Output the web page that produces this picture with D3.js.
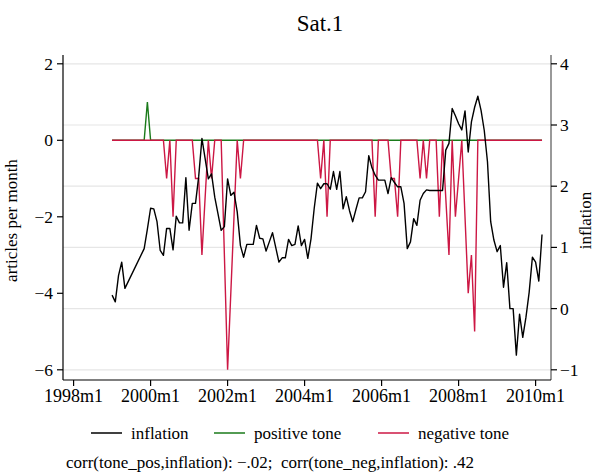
<!DOCTYPE html>
<html>
<head>
<meta charset="utf-8">
<script src="https://cdn.jsdelivr.net/npm/d3@7"></script>
<style>
  body { margin: 0; background: #fff; }
  text { font-family: "Liberation Serif", "Times New Roman", serif; fill: #000; }
</style>
</head>
<body>
<div id="chart"></div>
<script>
// months are counted from 1998m1 (= 0)
var xTicks = [0, 24, 48, 72, 96, 120, 144];
var xTickLabels = ["1998m1", "2000m1", "2002m1", "2004m1", "2006m1", "2008m1", "2010m1"];
var leftTicks = [2, 0, -2, -4, -6];
var rightTicks = [4, 3, 2, 1, 0, -1];

// inflation, monthly from 1999m1 (month 12) to 2010m3 (month 146); null = missing
var inflStart = 12;
var inflation = [
  0.22, 0.11, 0.54, 0.76, 0.33, null, null, null, null, null, 0.98, 1.30,
  1.64, 1.63, 1.42, 0.95, 0.87, 1.31, 1.31, 0.96, 1.51, 1.40, 1.40, 2.14,
  1.28, 1.72, 1.72, 2.16, 2.78, 2.45, 2.12, 2.20, 1.82, 1.55, 1.28, 1.34,
  2.12, 1.85, 1.90, 1.58, 1.03, 0.84, 1.05, 1.05, 1.05, 1.36, 1.15, 1.14,
  0.94, 1.09, 1.24, 1.00, 0.76, 0.83, 0.83, 1.13, 1.03, 1.05, 1.35, 1.03,
  1.13, 0.82, 1.14, 1.64, 2.05, 1.96, 2.04, 2.04, 1.95, 2.24, 1.95, 2.24,
  1.63, 1.83, 1.60, 1.42, 1.62, 1.81, 1.81, 1.91, 2.50, 2.30, 2.18, 2.10,
  2.10, 2.10, 1.88, 2.14, 2.06, 1.99, 1.99, 1.72, 0.98, 1.09, 1.47, 1.36,
  1.77, 1.88, 1.94, 1.93, 1.93, 1.93, 1.93, 1.93, 2.59, 2.70, 3.27, 3.15,
  3.02, 2.92, 3.23, 2.56, 3.05, 3.29, 3.47, 3.24, 2.91, 2.40, 1.42, 1.12,
  0.93, 1.03, 0.35, 0.75, 0.00, 0.00, -0.76, -0.09, -0.47, -0.14, 0.27, 0.84,
  0.76, 0.45, 1.21
];

// tone series, vertices of the line (month, articles)
var posMonths = [12, 22, 23, 24, 146];
var posValues = [0, 0, 1, 0, 0];

var negMonths = [12, 28, 29, 30, 31, 32, 37, 38, 39, 40, 42, 43, 44, 46, 48, 51, 52, 53,
                 76, 77, 78, 79, 80, 93, 94, 95, 98, 99, 100, 101, 102,
                 107, 108, 109, 110, 111, 113, 114, 115, 117, 118, 119, 121, 123, 124, 125, 126, 146];
var negValues = [0, 0, -1, 0, -2, 0, 0, -1, -1, -3, 0, -1, 0, 0, -6, 0, -1, 0,
                 0, -1, 0, -2, 0, 0, -2, 0, 0, -1, -1, -2, 0,
                 0, -1, 0, -1, 0, 0, -2, 0, -3, 0, -2, 0, -4, -3, -5, 0, 0];

var seriesNames = ["inflation", "positive tone", "negative tone"];
var seriesColors = ["#000000", "#1a7a1a", "#cc1744"];

var W = 596, H = 473;
var plot = {left: 63, right: 551, top: 55, bottom: 380};

var svg = d3.select("#chart").append("svg")
    .attr("width", W)
    .attr("height", H);

var x = d3.scaleLinear().domain([-3.3, 148.8]).range([plot.left, plot.right]);
var yL = d3.scaleLinear().domain([-6, 2]).range([369.8, 63.8]);
var yR = d3.scaleLinear().domain([-1, 4]).range([369.8, 63.8]);

// gridlines (from the right axis)
svg.append("g").selectAll("line")
    .data(rightTicks)
  .enter().append("line")
    .attr("x1", plot.left).attr("x2", plot.right)
    .attr("y1", function(d) { return yR(d); })
    .attr("y2", function(d) { return yR(d); })
    .attr("stroke", "#e6e6e6")
    .attr("stroke-width", 1.2);

// left axis
var gl = svg.append("g").attr("transform", "translate(" + plot.left + ",0)");
gl.append("line").attr("y1", plot.top).attr("y2", plot.bottom).attr("stroke", "#000").attr("stroke-width", 1.2);
gl.selectAll(".tk").data(leftTicks).enter().append("line")
    .attr("x1", -6).attr("x2", 0)
    .attr("y1", function(d) { return yL(d); }).attr("y2", function(d) { return yL(d); })
    .attr("stroke", "#000").attr("stroke-width", 1.2);
gl.selectAll(".lb").data(leftTicks).enter().append("text")
    .attr("x", -10)
    .attr("y", function(d) { return yL(d) + 6; })
    .attr("text-anchor", "end")
    .style("font-size", "17.5px")
    .text(function(d) { return d < 0 ? "\u2212" + (-d) : d; });

// right axis
var gr = svg.append("g").attr("transform", "translate(" + plot.right + ",0)");
gr.append("line").attr("y1", plot.top).attr("y2", plot.bottom).attr("stroke", "#555").attr("stroke-width", 1.2);
gr.selectAll(".tk").data(rightTicks).enter().append("line")
    .attr("x1", 0).attr("x2", 6)
    .attr("y1", function(d) { return yR(d); }).attr("y2", function(d) { return yR(d); })
    .attr("stroke", "#000").attr("stroke-width", 1.2);
gr.selectAll(".lb").data(rightTicks).enter().append("text")
    .attr("x", 9)
    .attr("y", function(d) { return yR(d) + 6; })
    .style("font-size", "17.5px")
    .text(function(d) { return d < 0 ? "\u2212" + (-d) : d; });

// bottom axis
var gb = svg.append("g").attr("transform", "translate(0," + plot.bottom + ")");
gb.append("line").attr("x1", plot.left).attr("x2", plot.right).attr("stroke", "#000").attr("stroke-width", 1.2);
gb.selectAll(".tk").data(xTicks).enter().append("line")
    .attr("x1", function(d) { return x(d); }).attr("x2", function(d) { return x(d); })
    .attr("y1", 0).attr("y2", 6)
    .attr("stroke", "#000").attr("stroke-width", 1.2);
gb.selectAll(".lb").data(xTicks).enter().append("text")
    .attr("x", function(d) { return x(d); })
    .attr("y", 22)
    .attr("text-anchor", "middle")
    .style("font-size", "18px")
    .text(function(d, i) { return xTickLabels[i]; });

// axis titles and title
svg.append("text")
    .attr("transform", "translate(17," + ((plot.top + plot.bottom) / 2 + 3) + ") rotate(-90)")
    .attr("text-anchor", "middle")
    .style("font-size", "17px")
    .text("articles per month");
svg.append("text")
    .attr("transform", "translate(591," + ((plot.top + plot.bottom) / 2 + 3) + ") rotate(-90)")
    .attr("text-anchor", "middle")
    .style("font-size", "17px")
    .text("inflation");
svg.append("text")
    .attr("x", 320).attr("y", 31)
    .attr("text-anchor", "middle")
    .style("font-size", "23px")
    .text("Sat.1");

// lines
var inflData = inflation.map(function(v, i) { return {m: inflStart + i, v: v}; });
var posData = posMonths.map(function(m, i) { return {m: m, v: posValues[i]}; });
var negData = negMonths.map(function(m, i) { return {m: m, v: negValues[i]}; });

var lineL = d3.line().x(function(d) { return x(d.m); }).y(function(d) { return yL(d.v); });
var lineR = d3.line()
    .x(function(d) { return x(d.m); }).y(function(d) { return yR(d.v); });

svg.append("path").datum(posData)
    .attr("d", lineL).attr("fill", "none")
    .attr("stroke", seriesColors[1]).attr("stroke-width", 1.4);
svg.append("path").datum(negData)
    .attr("d", lineL).attr("fill", "none")
    .attr("stroke", seriesColors[2]).attr("stroke-width", 1.4);
// missing months are skipped and the line connects across them
svg.append("path").datum(inflData.filter(function(d) { return d.v !== null; }))
    .attr("d", lineR).attr("fill", "none")
    .attr("stroke", seriesColors[0]).attr("stroke-width", 1.4)
    .attr("stroke-linejoin", "round");

// legend
var legX = [91, 214, 378];
var lg = svg.append("g").selectAll("g")
    .data(seriesNames)
  .enter().append("g")
    .attr("transform", function(d, i) { return "translate(" + legX[i] + ",433)"; });
lg.append("line")
    .attr("x1", 0).attr("x2", 31)
    .attr("stroke", function(d, i) { return seriesColors[i]; })
    .attr("stroke-width", 1.5);
lg.append("text")
    .attr("x", 40).attr("y", 6)
    .style("font-size", "17px")
    .text(function(d) { return d; });

svg.append("text")
    .attr("x", 66).attr("y", 468)
    .style("font-size", "17px")
    .style("white-space", "pre")
    .attr("xml:space", "preserve")
    .text("corr(tone_pos,inflation): \u2212.02;  corr(tone_neg,inflation): .42");
</script>
</body>
</html>
